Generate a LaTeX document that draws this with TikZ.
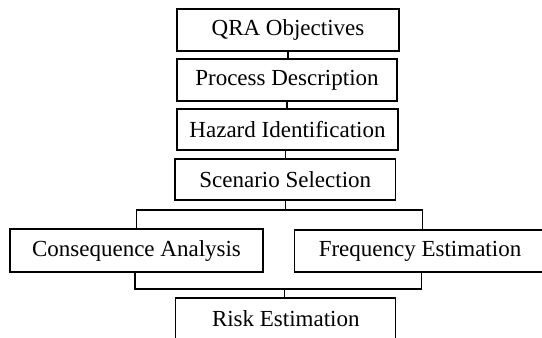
\documentclass[tikz,border=0pt]{standalone}
\usepackage{fontspec}
\setmainfont{Liberation Serif}
\begin{document}
\begin{tikzpicture}[x=1pt,y=-1pt,
  stepbox/.style={draw, line width=1.3pt, rectangle, inner sep=0pt,
    font=\fontsize{23}{27}\selectfont, text=black},
  link/.style={line width=1.3pt}]
\useasboundingbox (0,0) rectangle (542,338);
% main chain
\node[stepbox, minimum width=222pt, minimum height=42pt] (b1) at (288,30) {QRA Objectives};
\node[stepbox, minimum width=220pt, minimum height=42pt] (b2) at (287,80) {Process Description};
\node[stepbox, minimum width=221pt, minimum height=41pt] (b3) at (287.5,129.5) {Hazard Identification};
\node[stepbox, minimum width=220.5pt, minimum height=41pt] (b4) at (285.25,179.5) {Scenario Selection};
% parallel branches
\node[stepbox, minimum width=253pt, minimum height=43pt] (b5) at (136.5,250.5) {Consequence Analysis};
\node[stepbox, minimum width=251.4pt, minimum height=42pt] (b6) at (420,251) {Frequency Estimation};
% result
\node[stepbox, minimum width=220pt, minimum height=42pt] (b7) at (285.8,319) {Risk Estimation};
% junction points
\coordinate (jl) at (136.5,210);
\coordinate (jr) at (422.5,210);
\coordinate (ml) at (135,289);
\coordinate (mr) at (421.3,289);
\coordinate (mc) at (284.5,289);
% connectors
\draw[link] (b1.south) -- (b1.south |- b2.north);
\draw[link] (b2.south) -- (b2.south |- b3.north);
\draw[link] (b4.south |- b3.south) -- (b4.north);
\draw[link] (b4.south) -- (b4.south |- jl);
\draw[link] (b5.north -| jl) -- (jl) -- (jr) -- (b6.north -| jr);
\draw[link] (b5.south -| ml) -- (ml) -- (mr) -- (b6.south -| mr);
\draw[link] (b7.north -| mc) -- (mc);
\end{tikzpicture}
\end{document}
